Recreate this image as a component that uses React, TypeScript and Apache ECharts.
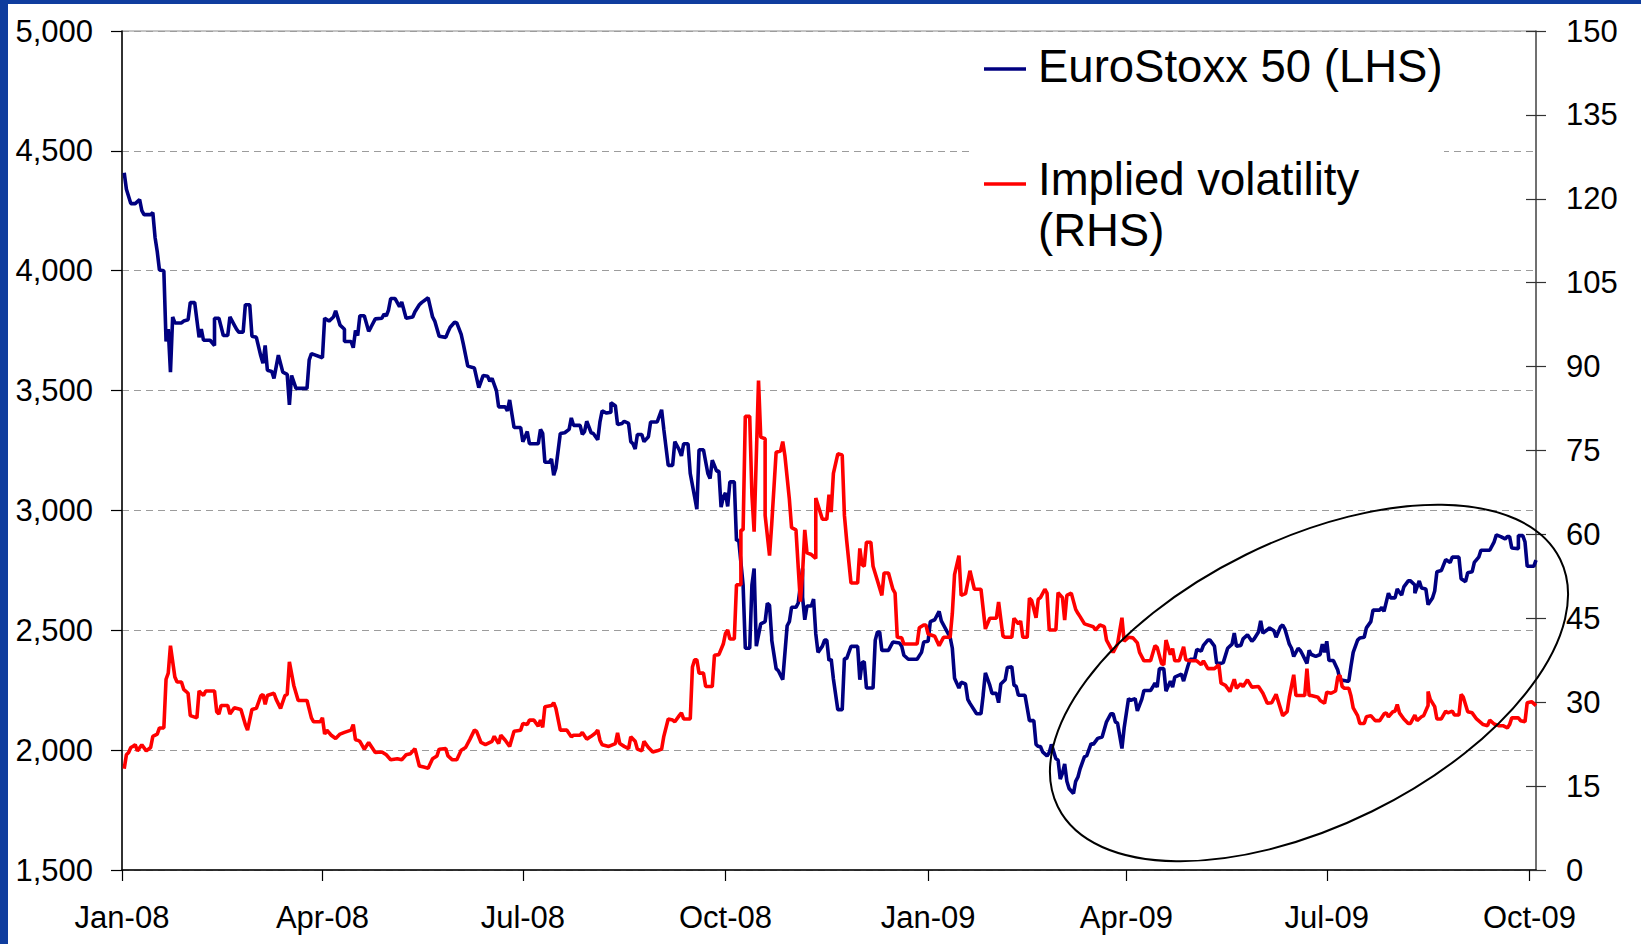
import React, { useEffect, useRef } from "react";
import * as echarts from "echarts";

// x values are days counted from 1 Jan 2008
const START_DATE = "2008-01-01";
const AXIS_END_DATE = "2009-10-04";
const quarterTickDates = ["2008-01-01", "2008-04-01", "2008-07-01", "2008-10-01", "2009-01-01", "2009-04-01", "2009-07-01", "2009-10-01"];
const quarterTickLabels = ["Jan-08", "Apr-08", "Jul-08", "Oct-08", "Jan-09", "Apr-09", "Jul-09", "Oct-09"];

const seriesNames = ["EuroStoxx 50 (LHS)", "Implied volatility (RHS)"];

// EuroStoxx 50 index level [day, level]
const euroStoxx50: [number, number][] = [
  [1, 4409], [2, 4340], [4, 4280], [6, 4280], [8, 4297], [9, 4251], [10, 4234], [13, 4234], [14, 4242], [15, 4140],
  [16, 4080], [17, 4003], [19, 4000], [20, 3705], [21, 3756], [22, 3577], [23, 3807], [24, 3782], [27, 3782], [28, 3790],
  [30, 3795], [31, 3867], [33, 3867], [35, 3722], [36, 3756], [37, 3710], [40, 3710], [42, 3688], [42, 3802], [44, 3802],
  [46, 3730], [48, 3730], [49, 3807], [51, 3773], [52, 3756], [53, 3744], [55, 3744], [56, 3858], [58, 3858], [59, 3727],
  [61, 3722], [63, 3645], [64, 3614], [65, 3688], [66, 3585], [68, 3580], [69, 3551], [71, 3648], [73, 3577], [75, 3568],
  [76, 3440], [77, 3563], [79, 3509], [84, 3509], [85, 3628], [86, 3654], [91, 3637], [92, 3802], [94, 3790], [96, 3807],
  [97, 3833], [99, 3773], [101, 3756], [101, 3705], [104, 3705], [105, 3679], [106, 3751],
  [107, 3730], [108, 3812], [110, 3812], [112, 3747], [113, 3764], [115, 3799], [118, 3802], [119, 3819], [120, 3812], [121, 3836],
  [122, 3884], [124, 3884], [126, 3850], [127, 3870], [129, 3802], [132, 3807], [133, 3829], [135, 3858], [136, 3867], [139, 3887],
  [141, 3807], [142, 3790], [144, 3727], [147, 3722], [148, 3744], [149, 3764], [151, 3785], [152, 3782], [154, 3734], [155, 3693],
  [157, 3602], [160, 3594], [162, 3512], [164, 3563], [166, 3560], [167, 3539], [168, 3551], [170, 3500], [171, 3432], [174, 3432],
  [175, 3415], [176, 3461], [178, 3346], [181, 3346], [182, 3287], [183, 3307], [184, 3329], [185, 3278], [189, 3278], [190, 3338],
  [191, 3321], [192, 3201], [194, 3201], [195, 3215], [196, 3147], [197, 3176], [199, 3321], [201, 3324], [203, 3338], [204, 3386],
  [205, 3355], [208, 3355], [209, 3317], [210, 3329], [211, 3372], [213, 3324], [214, 3321], [216, 3295],
  [217, 3369], [218, 3415], [220, 3406], [222, 3410], [222, 3449], [224, 3437], [225, 3358], [227, 3363], [228, 3372], [230, 3363],
  [231, 3287], [232, 3278], [233, 3256], [234, 3317], [236, 3317], [237, 3287], [239, 3307], [240, 3369], [243, 3369], [245, 3420],
  [246, 3338], [248, 3188], [250, 3188], [251, 3287], [253, 3253], [254, 3227], [255, 3278], [257, 3278], [258, 3154], [260, 3056],
  [261, 3005], [262, 3253], [264, 3253], [266, 3154], [267, 3133], [268, 3210], [270, 3164], [271, 3164], [272, 3014], [273, 3056],
  [274, 3073], [275, 3017], [276, 3119], [278, 3119], [279, 2874], [280, 2877], [282, 2689], [283, 2425], [285, 2425], [286, 2689],
  [287, 2758], [288, 2434], [290, 2527], [292, 2536], [293, 2613], [294, 2604], [295, 2468], [295, 2459], [297, 2340], [298, 2331],
  [300, 2294], [302, 2519], [303, 2536], [304, 2596], [306, 2596], [307, 2613], [309, 2758], [309, 2638], [310, 2544], [311, 2601],
  [313, 2601], [314, 2630], [315, 2485], [316, 2408], [318, 2434], [319, 2459], [320, 2459], [321, 2374], [322, 2379], [323, 2297],
  [325, 2169],
  [327, 2169], [328, 2382], [329, 2382], [331, 2433], [334, 2433], [335, 2294], [336, 2365], [337, 2369], [338, 2259], [341, 2259],
  [342, 2459], [343, 2493], [344, 2493], [345, 2416], [348, 2416], [349, 2434], [350, 2451], [353, 2447], [354, 2434], [355, 2396],
  [357, 2379], [361, 2379], [363, 2408], [364, 2451], [366, 2454], [367, 2536], [369, 2544], [371, 2579], [372, 2539], [374, 2505],
  [376, 2471], [377, 2425], [378, 2300], [380, 2259], [381, 2283], [383, 2276], [384, 2212], [385, 2195], [388, 2152], [390, 2152],
  [391, 2229], [391, 2232], [392, 2322], [394, 2271], [395, 2237], [397, 2237], [398, 2198], [399, 2276], [401, 2294], [402, 2345],
  [404, 2348], [405, 2271], [406, 2266], [407, 2229], [410, 2229], [412, 2123], [414, 2123], [415, 2024], [416, 2015], [417, 2015],
  [418, 1993], [420, 1976], [421, 1990], [422, 2024], [424, 1964], [425, 1959], [426, 1879], [427, 1904], [428, 1942], [429, 1870],
  [430, 1840], [432, 1819], [433, 1870], [434, 1887],
  [435, 1922], [437, 1973], [438, 1976], [440, 2027], [441, 2024], [443, 2049], [445, 2055], [447, 2118], [449, 2152], [450, 2152],
  [451, 2118], [452, 2113], [454, 2007], [455, 2092], [457, 2215], [458, 2208], [460, 2215], [461, 2164], [463, 2212], [464, 2249],
  [467, 2249], [468, 2263], [469, 2280], [470, 2263], [471, 2340], [473, 2340], [474, 2246], [476, 2288], [477, 2263], [478, 2305],
  [481, 2317], [482, 2288], [484, 2352], [485, 2379], [487, 2379], [488, 2420], [490, 2413], [491, 2437], [493, 2459], [494, 2459],
  [496, 2434], [497, 2362], [499, 2362], [500, 2365], [502, 2425], [504, 2442], [505, 2488], [506, 2434], [508, 2437], [509, 2464],
  [511, 2481], [513, 2454], [514, 2464], [516, 2493], [517, 2539], [518, 2488], [520, 2502], [521, 2510], [523, 2498], [524, 2471],
  [526, 2515], [527, 2522], [528, 2505], [530, 2442], [531, 2425], [532, 2391], [534, 2425], [535, 2416], [536, 2399], [538, 2362],
  [539, 2416], [540, 2399], [542, 2391],
  [544, 2399], [545, 2442], [546, 2408], [547, 2454], [548, 2374], [550, 2374], [552, 2334], [553, 2294], [556, 2288], [557, 2288],
  [558, 2351], [559, 2408], [561, 2459], [562, 2468], [564, 2471], [565, 2510], [567, 2536], [568, 2584], [571, 2584], [572, 2596],
  [573, 2579], [575, 2655], [576, 2635], [578, 2635], [579, 2672], [580, 2659], [581, 2647], [582, 2681], [584, 2706], [585, 2706],
  [587, 2689], [587, 2655], [589, 2706], [590, 2676], [592, 2672], [593, 2607], [595, 2635], [596, 2664], [597, 2744], [599, 2749],
  [601, 2795], [603, 2783], [604, 2805], [607, 2805], [608, 2715], [610, 2703], [611, 2740], [613, 2744], [614, 2783], [616, 2805],
  [617, 2834], [621, 2834], [623, 2869], [624, 2898], [626, 2891], [628, 2881], [629, 2891], [630, 2891], [631, 2843], [634, 2840],
  [634, 2895], [636, 2895], [637, 2869], [638, 2767], [641, 2767], [642, 2793],
];

// Implied volatility [day, vol %]
const impliedVolatility: [number, number][] = [
  [1, 18.1], [2, 20.6], [3, 21.0], [4, 21.9], [5, 22.1], [6, 22.4], [7, 21.3], [9, 22.4], [11, 21.3], [13, 21.9],
  [14, 23.9], [16, 24.3], [17, 25.4], [19, 25.4], [20, 34.1], [21, 35.2], [22, 40.1], [24, 34.5], [25, 33.6], [27, 33.6],
  [28, 32.3], [30, 31.6], [31, 27.6], [34, 27.2], [35, 32.0], [37, 31.2], [38, 32.0], [42, 32.0], [43, 28.3], [44, 27.9],
  [45, 29.4], [48, 29.4], [49, 27.9], [51, 29.0], [54, 28.7], [56, 26.0], [57, 25.0], [59, 28.7], [61, 28.9], [63, 31.1],
  [64, 31.4], [65, 29.6], [66, 31.2], [69, 31.6], [70, 30.5], [72, 28.9], [74, 31.2], [75, 31.4], [76, 37.2], [78, 33.0],
  [80, 30.3], [84, 30.3], [86, 27.2], [87, 26.5], [90, 26.5], [91, 27.2], [92, 24.3], [93, 25.0], [95, 24.1], [97, 23.5],
  [99, 24.3], [101, 24.6], [104, 25.0], [105, 26.0], [106, 23.3],
  [107, 23.2], [108, 23.0], [110, 21.6], [112, 22.8], [115, 21.0], [118, 21.1], [120, 20.6], [122, 19.7], [125, 19.9], [127, 19.7],
  [129, 20.6], [131, 20.8], [133, 21.7], [135, 18.6], [137, 18.4], [139, 18.2], [141, 19.9], [143, 20.4], [144, 21.6], [147, 21.7],
  [148, 20.4], [150, 19.7], [152, 19.7], [154, 21.4], [156, 21.9], [158, 23.4], [160, 25.0], [161, 24.8], [163, 22.8], [165, 22.4],
  [168, 23.0], [169, 23.9], [171, 22.6], [172, 24.1], [174, 23.2], [176, 22.1], [178, 24.8], [181, 25.0], [182, 26.2], [184, 26.0],
  [185, 26.8], [187, 26.8], [189, 25.7], [190, 26.8], [191, 25.5], [192, 29.2], [195, 29.4], [196, 29.9], [197, 28.9], [199, 25.0],
  [202, 25.0], [204, 23.8], [205, 24.1], [208, 24.1], [209, 24.6], [211, 23.4], [213, 23.9], [215, 24.5], [216, 25.0],
  [217, 23.2], [218, 22.4], [221, 22.1], [224, 22.6], [225, 24.5], [226, 22.6], [228, 22.1], [230, 21.7], [231, 23.8], [233, 23.0],
  [234, 21.6], [236, 21.3], [237, 23.0], [239, 21.9], [241, 21.1], [243, 21.3], [245, 21.6], [246, 23.9], [248, 27.0], [250, 26.8],
  [251, 26.5], [253, 27.6], [254, 28.1], [255, 27.0], [258, 27.0], [259, 36.3], [260, 37.6], [261, 37.6], [262, 35.2], [264, 35.2],
  [265, 32.8], [268, 32.8], [269, 38.4], [271, 38.5], [273, 40.4], [274, 42.3], [275, 42.9], [276, 41.3], [278, 41.3], [279, 51.0],
  [281, 51.0], [281, 60.8], [282, 60.8], [283, 81.1], [285, 81.1], [286, 67.1], [287, 60.5], [289, 87.5], [290, 77.4], [292, 77.1],
  [292, 63.4], [294, 56.2], [295, 61.9], [297, 74.7], [299, 74.9], [300, 76.6], [301, 74.0], [303, 66.3], [304, 61.2], [306, 60.8],
  [307, 54.3], [308, 48.0], [309, 53.1], [310, 60.8], [311, 56.7], [313, 56.4], [315, 55.7], [315, 66.5], [318, 62.7], [320, 62.7],
  [321, 67.1], [322, 64.0], [323, 70.9], [325, 74.4],
  [327, 74.2], [328, 63.4], [329, 59.0], [331, 51.3], [334, 51.3], [335, 57.5], [336, 54.6], [337, 54.3], [338, 58.6], [340, 58.6],
  [341, 54.3], [343, 51.7], [345, 49.1], [346, 53.1], [348, 53.1], [350, 50.2], [351, 49.5], [352, 41.6], [354, 41.5], [355, 40.4],
  [361, 40.4], [362, 43.3], [364, 43.8], [365, 43.8], [366, 42.2], [369, 41.8], [371, 40.1], [373, 41.6], [376, 41.6], [377, 45.9],
  [378, 52.8], [380, 56.2], [381, 49.1], [383, 49.4], [385, 53.5], [387, 50.2], [390, 50.2], [392, 43.1], [394, 45.0], [397, 45.0],
  [398, 47.9], [400, 41.8], [401, 41.6], [404, 41.6], [405, 45.0], [407, 44.0], [408, 44.5], [409, 41.6], [411, 41.6], [412, 48.6],
  [413, 48.2], [415, 45.1], [416, 48.4], [417, 48.7], [419, 50.2], [420, 49.5], [421, 42.9], [424, 42.9], [425, 49.6], [427, 48.7],
  [428, 44.7], [429, 49.1], [431, 49.5], [433, 46.6], [434, 45.9],
  [435, 45.3], [437, 44.0], [441, 43.5], [442, 42.9], [444, 43.8], [446, 43.5], [447, 41.1], [450, 38.9], [452, 40.4], [454, 45.1],
  [455, 40.9], [457, 41.6], [459, 41.5], [461, 40.6], [462, 38.9], [464, 37.4], [467, 37.4], [469, 40.1], [470, 39.8], [472, 36.9],
  [473, 36.7], [474, 41.1], [476, 38.5], [477, 39.6], [478, 37.4], [480, 37.4], [482, 39.9], [483, 37.6], [485, 37.4], [488, 37.4],
  [490, 36.7], [491, 37.4], [493, 36.0], [496, 36.0], [498, 36.7], [499, 33.4], [501, 33.0], [503, 31.9], [505, 34.1], [506, 32.5],
  [508, 33.3], [509, 32.8], [511, 34.0], [513, 32.7], [516, 32.8], [518, 31.6], [520, 29.8], [522, 29.9], [524, 31.4], [527, 27.6],
  [529, 28.3], [530, 30.9], [532, 34.9], [533, 31.2], [537, 31.2], [538, 36.0], [539, 31.2], [540, 31.2], [543, 30.9],
  [544, 30.3], [546, 29.8], [547, 31.8], [549, 31.6], [551, 32.0], [552, 34.5], [553, 34.8], [554, 32.8], [555, 32.5], [557, 32.5],
  [558, 31.1], [559, 29.0], [561, 27.6], [562, 26.2], [564, 26.2], [565, 27.4], [567, 27.6], [569, 26.7], [571, 26.7], [573, 27.9],
  [574, 28.1], [575, 27.4], [577, 28.3], [578, 28.4], [579, 29.6], [580, 28.1], [582, 27.0], [584, 26.2], [585, 26.2], [587, 27.7],
  [588, 26.7], [590, 27.4], [591, 27.6], [593, 29.4], [593, 31.9], [594, 30.5], [596, 29.2], [597, 27.0], [599, 27.0], [601, 28.4],
  [602, 28.1], [604, 28.4], [605, 27.7], [607, 27.7], [608, 31.4], [609, 30.9], [611, 28.3], [613, 28.1], [615, 27.0], [618, 26.0],
  [620, 25.8], [621, 26.8], [623, 26.1], [625, 25.8], [627, 25.8], [629, 25.4], [630, 26.0], [631, 27.2], [634, 27.2], [635, 26.7],
  [637, 26.5], [638, 29.9], [640, 30.1], [642, 29.4],
];

const DAY_MS = 86400000;
const FONT = '"Liberation Sans", Arial, sans-serif';

export default function App() {
  const ref = useRef<HTMLDivElement>(null);

  useEffect(() => {
    document.body.style.margin = "0";
    if (!ref.current) return;
    const chart = echarts.init(ref.current, null, { renderer: "svg" });

    const t0 = Date.parse(START_DATE);
    const toDay = (s: string) => Math.round((Date.parse(s) - t0) / DAY_MS);
    const endDay = toDay(AXIS_END_DATE);
    const tickDays = quarterTickDates.map(toDay);
    const xLabel = (v: number) => {
      const i = tickDays.findIndex((t) => Math.abs(t - v) < 0.5);
      return i >= 0 ? quarterTickLabels[i] : "";
    };

    chart.setOption({
      animation: false,
      backgroundColor: "#ffffff",
      grid: {
        left: 122,
        right: 105,
        top: 31,
        bottom: 74,
        show: true,
        borderColor: "#8a8a8a",
        borderWidth: 1,
        backgroundColor: "transparent",
        outerBoundsMode: "none",
      },
      xAxis: {
        type: "value",
        min: 0,
        max: endDay,
        axisLine: { show: true, lineStyle: { color: "#000", width: 1.5 } },
        axisTick: { show: true, customValues: tickDays, length: 11, lineStyle: { color: "#000", width: 1.2 } },
        axisLabel: {
          customValues: tickDays,
          formatter: xLabel,
          margin: 32,
          fontSize: 31,
          color: "#000",
          fontFamily: FONT,
        },
        splitLine: { show: false },
      },
      yAxis: [
        {
          type: "value",
          position: "left",
          min: 1500,
          max: 5000,
          interval: 500,
          axisLine: { show: true, lineStyle: { color: "#000", width: 1.5 } },
          axisTick: { show: true, length: 11, lineStyle: { color: "#000", width: 1.2 } },
          axisLabel: {
            formatter: (v: number) => v.toLocaleString("en-US"),
            margin: 29,
            fontSize: 31,
            color: "#000",
            fontFamily: FONT,
          },
          splitLine: { show: true, lineStyle: { color: "#9c9c9c", width: 1, type: [7, 5] } },
        },
        {
          type: "value",
          position: "right",
          min: 0,
          max: 150,
          interval: 15,
          axisLine: { show: true, lineStyle: { color: "#555", width: 1.5 } },
          axisTick: { show: true, length: 10, lineStyle: { color: "#333", width: 1.2 } },
          axisLabel: { margin: 30, fontSize: 31, color: "#000", fontFamily: FONT },
          splitLine: { show: false },
        },
        {
          type: "value",
          position: "right",
          min: 0,
          max: 150,
          interval: 15,
          axisLine: { show: false },
          axisTick: { show: true, inside: true, length: 10, lineStyle: { color: "#333", width: 1.2 } },
          axisLabel: { show: false },
          splitLine: { show: false },
        },
      ],
      series: [
        {
          name: seriesNames[0],
          type: "line",
          yAxisIndex: 0,
          symbol: "none",
          data: euroStoxx50,
          lineStyle: { color: "#000080", width: 3.6 },
          itemStyle: { color: "#000080" },
          z: 3,
        },
        {
          name: seriesNames[1],
          type: "line",
          yAxisIndex: 1,
          symbol: "none",
          data: impliedVolatility,
          lineStyle: { color: "#ff0000", width: 3.6 },
          itemStyle: { color: "#ff0000" },
          z: 4,
        },
      ],
      graphic: [
        { type: "rect", shape: { x: 0, y: 0, width: 8, height: 944 }, style: { fill: "#0f3d9e" }, z: 1 },
        { type: "rect", shape: { x: 0, y: 0, width: 1641, height: 4 }, style: { fill: "#0f3d9e" }, z: 1 },
        { type: "rect", shape: { x: 973, y: 38, width: 471, height: 224 }, style: { fill: "#ffffff" }, z: 5 },
        { type: "line", shape: { x1: 984, y1: 69, x2: 1026, y2: 69 }, style: { stroke: "#000080", lineWidth: 3.6 }, z: 6 },
        {
          type: "text",
          x: 1038,
          y: 66,
          style: { text: seriesNames[0], fontSize: 45.5, fontFamily: FONT, fill: "#000", verticalAlign: "middle", align: "left" },
          z: 6,
        },
        { type: "line", shape: { x1: 984, y1: 184, x2: 1026, y2: 184 }, style: { stroke: "#ff0000", lineWidth: 3.6 }, z: 6 },
        {
          type: "text",
          x: 1038,
          y: 154,
          style: {
            text: "Implied volatility\n(RHS)",
            fontSize: 45.5,
            lineHeight: 51,
            fontFamily: FONT,
            fill: "#000",
            verticalAlign: "top",
            align: "left",
          },
          z: 6,
        },
        {
          type: "ellipse",
          x: 1309,
          y: 683,
          rotation: (26.2 * Math.PI) / 180,
          shape: { cx: 0, cy: 0, rx: 280, ry: 143 },
          style: { fill: "none", stroke: "#000", lineWidth: 2 },
          z: 10,
        },
      ],
    });

    return () => chart.dispose();
  }, []);

  return <div ref={ref} style={{ width: 1641, height: 944 }} />;
}
